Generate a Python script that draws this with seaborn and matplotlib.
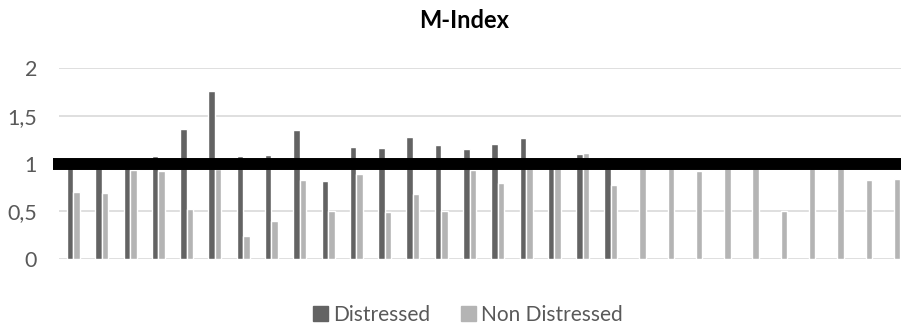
import numpy as np
import pandas as pd
import matplotlib
matplotlib.use("Agg")
import matplotlib.pyplot as plt
import seaborn as sns

# M-Index per company, two groups
companies = [str(i) for i in range(1, 31)]
distressed = [1.00, 1.00, 0.99, 1.08, 1.36, 1.76, 1.08, 1.09, 1.35, 0.82,
              1.17, 1.16, 1.28, 1.20, 1.15, 1.21, 1.27, 0.99, 1.10, 1.07,
              np.nan, np.nan, np.nan, np.nan, np.nan, np.nan, np.nan, np.nan, np.nan, np.nan]
non_distressed = [0.70, 0.69, 0.93, 0.92, 0.53, 0.94, 0.24, 0.40, 0.83, 0.50,
                  0.89, 0.49, 0.68, 0.505, 0.93, 0.80, 0.97, 0.98, 1.11, 0.78,
                  0.97, 0.98, 0.92, 0.98, 0.97, 0.51, 0.98, 0.97, 0.83, 0.84]
series_names = ["Distressed", "Non Distressed"]
threshold = 1.0
y_ticks = [0, 0.5, 1, 1.5, 2]
y_tick_labels = ["0", "0,5", "1", "1,5", "2"]

df = pd.DataFrame({
    "company": companies * 2,
    "value": distressed + non_distressed,
    "group": [series_names[0]] * len(companies) + [series_names[1]] * len(companies),
})

sns.set_theme(style="white")
plt.rcParams["font.family"] = ["Lato", "DejaVu Sans"]

W, H = 901, 326
fig = plt.figure(figsize=(W / 100, H / 100), dpi=100)
ax = fig.add_axes([59.3 / W, 1 - 259.3 / H, 848.7 / W, 191.3 / H])

palette = {"Distressed": "#636363", "Non Distressed": "#b4b4b4"}
sns.barplot(data=df, x="company", y="value", hue="group", palette=palette,
            width=0.46, dodge=True, saturation=1, ax=ax, legend=False,
            errorbar=None, zorder=2)

ax.set_ylim(0, 2)
ax.set_xlim(-0.5, len(companies) - 0.5)
ax.set_yticks(y_ticks)
ax.set_yticklabels(y_tick_labels)
ax.set_xticks([])
ax.set_xlabel("")
ax.set_ylabel("")
ax.tick_params(axis="y", length=0, pad=16, labelsize=15.5, labelcolor="#595959")
for s in ax.spines.values():
    s.set_visible(False)
ax.yaxis.grid(True, color="#d9d9d9", linewidth=1.2, zorder=0)
ax.set_axisbelow(True)

# reference level
ax.axhline(threshold, xmin=-0.0078, xmax=1, color="black", linewidth=8.6,
           solid_capstyle="butt", clip_on=False, zorder=5)

fig.text(464 / W, 1 - 28.3 / H, "M-Index", ha="center", va="baseline",
         fontsize=17, fontweight="bold", color="#000000")

handles = [plt.Rectangle((0, 0), 1, 1, color=palette[n]) for n in series_names]
fig.legend(handles, series_names, loc="center", bbox_to_anchor=(468 / W, 1 - 315 / H),
           ncol=2, frameon=False, fontsize=15, labelcolor="#595959",
           handlelength=0.72, handleheight=0.72, handletextpad=0.25,
           columnspacing=1.45, borderaxespad=0)

fig.savefig("out.png", dpi=100)
